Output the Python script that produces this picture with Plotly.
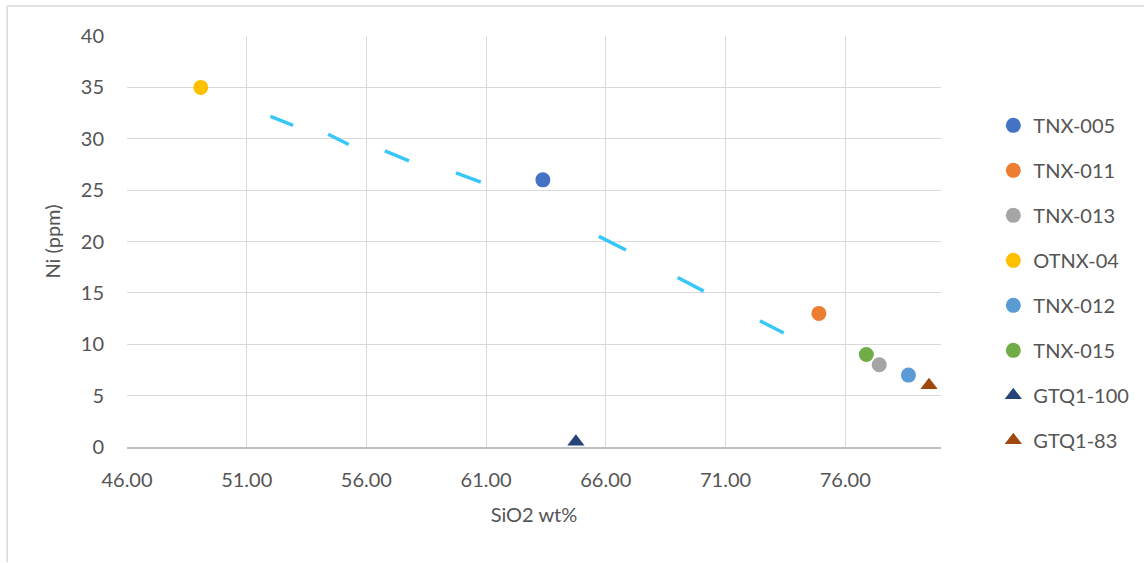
import plotly.graph_objects as go

# ---- data ----
samples = ["TNX-005", "TNX-011", "TNX-013", "OTNX-04", "TNX-012", "TNX-015", "GTQ1-100", "GTQ1-83"]
sio2 = [63.37, 74.9, 77.42, 49.08, 78.64, 76.88, 64.75, 79.5]
ni = [26, 13, 8, 35, 7, 9, 0.5, 6]
symbols = ["circle", "circle", "circle", "circle", "circle", "circle", "triangle-up", "triangle-up"]
colors = ["#4472C4", "#ED7D31", "#A5A5A5", "#FFC000", "#5B9BD5", "#70AD47", "#264478", "#9E480E"]

# hand-drawn dashed trend (segment start/end points)
trend_x = [51.99, 52.94, None, 54.40, 55.26, None, 56.77, 57.78, None, 59.74, 60.78, None,
           65.71, 66.84, None, 69.0, 70.09, None, 72.44, 73.43]
trend_y = [32.18, 31.31, None, 30.44, 29.44, None, 28.82, 27.84, None, 26.68, 25.78, None,
           20.50, 19.17, None, 16.49, 15.17, None, 12.28, 11.09]

x_ticks = [46, 51, 56, 61, 66, 71, 76]
x_tick_text = ["46.00", "51.00", "56.00", "61.00", "66.00", "71.00", "76.00"]
y_ticks = [0, 5, 10, 15, 20, 25, 30, 35, 40]

FONT = "Lato"
TXT = "#555555"

fig = go.Figure()
fig.add_trace(go.Scatter(x=trend_x, y=trend_y, mode="lines", showlegend=False,
                         line=dict(color="#38C8F8", width=3.5), hoverinfo="skip"))
for i, name in enumerate(samples):
    fig.add_trace(go.Scatter(
        x=[sio2[i]], y=[ni[i]], mode="markers", name=name, legendgroup=name,
        marker=dict(symbol=symbols[i], color=colors[i], size=15, line=dict(width=0)),
    ))

fig.update_layout(
    width=1145, height=563,
    margin=dict(l=127, r=203, t=36, b=115.5),
    paper_bgcolor="white", plot_bgcolor="white",
    font=dict(family=FONT, size=20, color=TXT),
    legend=dict(x=1.063, xanchor="left", y=0.83, yanchor="top",
                tracegroupgap=16, font=dict(size=20, color=TXT),
                itemwidth=30, bgcolor="rgba(0,0,0,0)"),
    xaxis=dict(range=[46, 80], tickvals=x_ticks, ticktext=x_tick_text,
               showgrid=True, gridcolor="#D9D9D9", gridwidth=1,
               zeroline=False, showline=True, linecolor="#BFBFBF", linewidth=1.5,
               ticks="", ticklabelstandoff=14,
               title=dict(text="SiO2 wt%", font=dict(size=20, color=TXT), standoff=18)),
    yaxis=dict(range=[0, 40], tickvals=y_ticks,
               showgrid=True, gridcolor="#D9D9D9", gridwidth=1,
               zeroline=False, showline=False,
               ticks="", ticklabelstandoff=22,
               title=dict(text="Ni (ppm)", font=dict(size=20, color=TXT), standoff=14)),
)

# outer chart border (top and left)
fig.add_shape(type="line", xref="paper", yref="paper",
              x0=(7 - 127) / 815, x1=(1145 - 127) / 815,
              y0=(447.5 - 6) / 411.5, y1=(447.5 - 6) / 411.5,
              line=dict(color="#D9D9D9", width=1.5))
fig.add_shape(type="line", xref="paper", yref="paper",
              x0=(7 - 127) / 815, x1=(7 - 127) / 815,
              y0=(447.5 - 6) / 411.5, y1=(447.5 - 563) / 411.5,
              line=dict(color="#D9D9D9", width=1.5))

fig.write_html("out.html")
